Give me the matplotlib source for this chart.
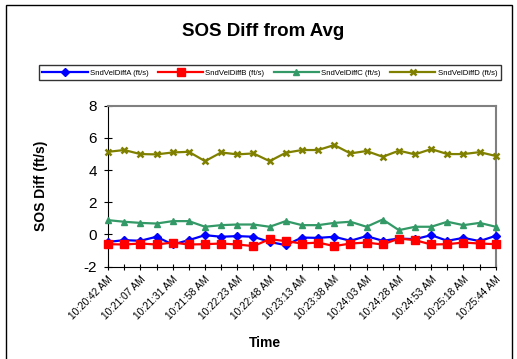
import numpy as np
import matplotlib.pyplot as plt
from matplotlib.patches import Rectangle

plt.rcParams['font.family'] = ['Liberation Sans', 'DejaVu Sans']
plt.rcParams['axes.unicode_minus'] = False

# shown time labels (every other sample)
time_labels = ['10:20:42 AM', '10:21:07 AM', '10:21:31 AM', '10:21:58 AM',
               '10:22:23 AM', '10:22:48 AM', '10:23:13 AM', '10:23:38 AM',
               '10:24:03 AM', '10:24:28 AM', '10:24:53 AM', '10:25:18 AM',
               '10:25:44 AM']

diff_a = [-0.46, -0.35, -0.39, -0.14, -0.62, -0.35, -0.04, -0.14, -0.10, -0.14,
          -0.46, -0.66, -0.19, -0.21, -0.14, -0.39, -0.10, -0.39, -0.25, -0.29,
          -0.04, -0.39, -0.21, -0.41, -0.08]
diff_b = [-0.60, -0.62, -0.56, -0.62, -0.50, -0.62, -0.60, -0.56, -0.62, -0.72,
          -0.29, -0.41, -0.56, -0.50, -0.72, -0.56, -0.50, -0.62, -0.25, -0.35,
          -0.62, -0.60, -0.50, -0.56, -0.60]
diff_c = [0.89, 0.79, 0.72, 0.68, 0.83, 0.83, 0.48, 0.58, 0.62, 0.62,
          0.48, 0.83, 0.58, 0.58, 0.72, 0.79, 0.48, 0.93, 0.27, 0.48,
          0.48, 0.79, 0.58, 0.72, 0.48]
diff_d = [5.13, 5.24, 4.99, 4.97, 5.09, 5.13, 4.55, 5.09, 4.97, 5.03,
          4.55, 5.07, 5.24, 5.24, 5.55, 5.03, 5.18, 4.82, 5.20, 4.97,
          5.30, 4.99, 4.99, 5.11, 4.87]

names = ['SndVelDiffA (ft/s)', 'SndVelDiffB (ft/s)',
         'SndVelDiffC (ft/s)', 'SndVelDiffD (ft/s)']

fig = plt.figure(figsize=(5.17, 3.59), dpi=100)
ax = fig.add_axes([0.209, 0.257, 0.750, 0.449])

x = np.arange(len(diff_a))
styles = [(diff_a, '#0000FF', 'D', 4),
          (diff_b, '#FF0000', 's', 5.5),
          (diff_c, '#339966', '^', 5),
          (diff_d, '#808000', 'x', 5)]
for (vals, col, mk, ms), nm in zip(styles, names):
    ax.plot(x, vals, color=col, marker=mk, markersize=ms, lw=1.6,
            mew=1.8 if mk == 'x' else 1, label=nm, clip_on=False, zorder=3)

ax.set_xlim(0, len(x) - 1)
ax.set_ylim(-2, 8)
ax.set_yticks([-2, 0, 2, 4, 6, 8])
ax.tick_params(axis='y', direction='inout', length=6, labelsize=11, pad=5)
ax.set_xticks(x)
labels = []
for i in range(len(x)):
    labels.append(time_labels[i // 2] if i % 2 == 0 else '')
ax.set_xticklabels(labels, rotation=45, ha='right', rotation_mode='anchor',
                   fontsize=7.3)
ax.tick_params(axis='x', direction='inout', length=4, pad=3)

for s in ['top', 'right']:
    ax.spines[s].set_color('#808080')
    ax.spines[s].set_linewidth(1.5)
for s in ['left', 'bottom']:
    ax.spines[s].set_color('black')

ax.set_ylabel('SOS Diff (ft/s)', fontsize=10, fontweight='bold')
ax.yaxis.set_label_coords(-0.155, 0.5)
fig.text(0.513, 0.033, 'Time', fontsize=10, fontweight='bold', ha='center')
fig.text(0.509, 0.911, 'SOS Diff from Avg', fontsize=13.5, fontweight='bold',
         ha='center', va='center')

leg = fig.legend(loc='center', bbox_to_anchor=(0.522, 0.797), ncol=4,
                 fontsize=5.6, frameon=True, fancybox=False, handlelength=5.8,
                 columnspacing=1.2, handletextpad=0.3, borderpad=0.5,
                 edgecolor='black')
leg.get_frame().set_linewidth(1)

fig.patches.append(Rectangle((0.012, -0.05), 0.978, 1.035, transform=fig.transFigure,
                             fill=False, edgecolor='black', lw=1))

fig.savefig('out.png', dpi=100)
